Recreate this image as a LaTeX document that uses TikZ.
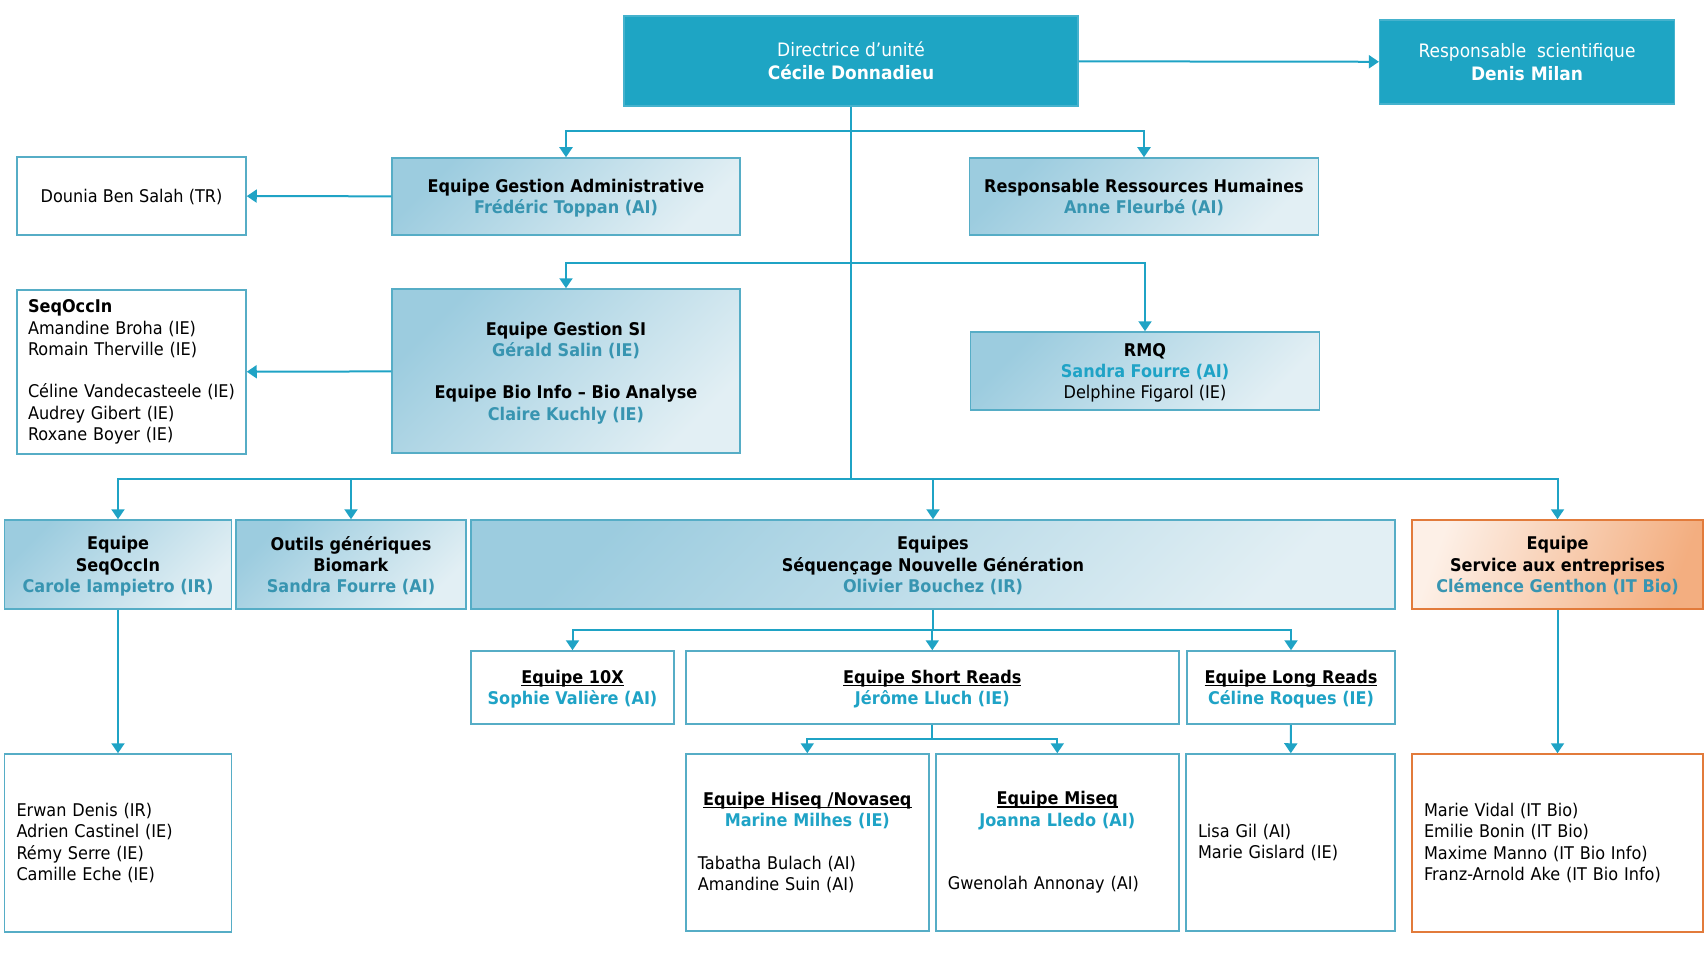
\documentclass[tikz,border=0pt]{standalone}
\usepackage{fontspec}
\setmainfont{DejaVu Sans}[FakeStretch=0.92]
\usetikzlibrary{arrows.meta}

\definecolor{unitblue}{HTML}{1EA5C4}
\definecolor{unitedge}{HTML}{45B2CD}
\definecolor{gradtop}{HTML}{9CCCDF}
\definecolor{gradbot}{HTML}{E2EFF4}
\definecolor{boxedge}{HTML}{56ADC6}
\definecolor{linkblue}{HTML}{1FA3C5}
\definecolor{namedim}{HTML}{3895B1}
\definecolor{namebright}{HTML}{1FA3C6}
\definecolor{orlight}{HTML}{FDF0E7}
\definecolor{ordark}{HTML}{F3AE80}
\definecolor{oredge}{HTML}{E27B3B}

\newsavebox{\hdbox}
\newcommand{\nm}[1]{\textcolor{namedim}{\textbf{#1}}}
\newcommand{\nb}[1]{\textcolor{namebright}{\textbf{#1}}}
\newcommand{\hd}[1]{\sbox{\hdbox}{\textbf{#1}}\rlap{\usebox{\hdbox}}\rule[-2.8pt]{\wd\hdbox}{1.3pt}}
\newcommand{\ctr}[1]{\makebox[\linewidth]{#1}}

\tikzset{
  every node/.style={font=\fontsize{17.5}{21.3}\selectfont, inner sep=0pt},
  topbox/.style={rectangle, fill=unitblue, draw=unitedge, line width=1.2pt,
    text=white, align=center, text depth=0pt, font=\fontsize{18.5}{23}\selectfont},
  gradbox/.style={rectangle, draw=boxedge, line width=1.5pt,
    top color=gradtop, bottom color=gradbot, shading angle=45, align=center, text depth=0pt},
  orgradbox/.style={rectangle, draw=oredge, line width=1.5pt,
    top color=orlight, bottom color=ordark, shading angle=70, align=center, text depth=0pt},
  titlebox/.style={rectangle, draw=boxedge, fill=white, line width=1.5pt, align=center, text depth=0pt},
  listbox/.style={rectangle, draw=boxedge, fill=white, line width=1.5pt, align=left},
  orlistbox/.style={listbox, draw=oredge},
  link/.style={draw=linkblue, line width=2pt},
  >={Triangle[length=10pt,width=13pt]}
}

\begin{document}
\begin{tikzpicture}[x=1pt,y=-1pt]
  \useasboundingbox (0,0) rectangle (1707,960);
  \draw
    (851,61) node[topbox,minimum width=454,minimum height=90] (dir)
      {Directrice d’unité\\\textbf{Cécile Donnadieu}}
    (1527,62) node[topbox,minimum width=295,minimum height=84] (sci)
      {Responsable~ scientifique\\\textbf{Denis Milan}}
    (131.5,196) node[titlebox,minimum width=229,minimum height=78] (dounia)
      {Dounia Ben Salah (TR)}
    (566,196.5) node[gradbox,minimum width=348,minimum height=77] (admin)
      {\textbf{Equipe Gestion Administrative}\\\nm{Frédéric Toppan (AI)}}
    (1144,196.5) node[gradbox,minimum width=349,minimum height=77] (rrh)
      {\textbf{Responsable Ressources Humaines}\\\nm{Anne Fleurbé (AI)}}
    (131.5,372) node[listbox,minimum width=229,minimum height=164,text width=207] (seqlist)
      {\textbf{SeqOccIn}\\Amandine Broha (IE)\\Romain Therville (IE)\\[21.3pt]
       Céline Vandecasteele (IE)\\Audrey Gibert (IE)\\Roxane Boyer (IE)}
    (566,371) node[gradbox,minimum width=348,minimum height=164] (gestsi)
      {\textbf{Equipe Gestion SI}\\\nm{Gérald Salin (IE)}\\[21.3pt]
       \textbf{Equipe Bio Info – Bio Analyse}\\\nm{Claire Kuchly (IE)}}
    (1145,371) node[gradbox,minimum width=349,minimum height=78] (rmq)
      {\textbf{RMQ}\\\nb{Sandra Fourre (AI)}\\Delphine Figarol (IE)}
    (118,564.5) node[gradbox,minimum width=227,minimum height=89] (seqteam)
      {\textbf{Equipe}\\\textbf{SeqOccIn}\\\nm{Carole Iampietro (IR)}}
    (351,564.5) node[gradbox,minimum width=230,minimum height=89] (outils)
      {\textbf{Outils génériques}\\\textbf{Biomark}\\\nm{Sandra Fourre (AI)}}
    (933,564.5) node[gradbox,minimum width=924,minimum height=89] (sng)
      {\textbf{Equipes}\\\textbf{Séquençage Nouvelle Génération}\\\nm{Olivier Bouchez (IR)}}
    (1557.5,564.5) node[orgradbox,minimum width=291,minimum height=89] (service)
      {\textbf{Equipe}\\\textbf{Service aux entreprises}\\\nm{Clémence Genthon (IT Bio)}}
    (572.5,687.5) node[titlebox,minimum width=203,minimum height=73] (tenx)
      {\hd{Equipe 10X}\\\nb{Sophie Valière (AI)}}
    (932.3,687.5) node[titlebox,minimum width=493,minimum height=73] (short)
      {\hd{Equipe Short Reads}\\\nb{Jérôme Lluch (IE)}}
    (1291,687.5) node[titlebox,minimum width=208,minimum height=73] (long)
      {\hd{Equipe Long Reads}\\\nb{Céline Roques (IE)}}
    (118,843) node[listbox,minimum width=227,minimum height=178,text width=203] (erwan)
      {Erwan Denis (IR)\\Adrien Castinel (IE)\\Rémy Serre (IE)\\Camille Eche (IE)}
    (807.3,842.5) node[listbox,minimum width=243,minimum height=177,text width=219] (hiseq)
      {\ctr{\hd{Equipe Hiseq /Novaseq}}\\\ctr{\nb{Marine Milhes (IE)}}\\[21.3pt]
       Tabatha Bulach (AI)\\Amandine Suin (AI)}
    (1057.3,842.5) node[listbox,minimum width=243,minimum height=177,text width=219] (miseq)
      {\ctr{\hd{Equipe Miseq}}\\\ctr{\nb{Joanna Lledo (AI)}}\\[42.6pt]
       Gwenolah Annonay (AI)}
    (1290.5,842.5) node[listbox,minimum width=209,minimum height=177,text width=185] (lisa)
      {Lisa Gil (AI)\\Marie Gislard (IE)}
    (1557.5,843) node[orlistbox,minimum width=291,minimum height=178,text width=267] (marie)
      {Marie Vidal (IT Bio)\\Emilie Bonin (IT Bio)\\Maxime Manno (IT Bio Info)\\Franz-Arnold Ake (IT Bio Info)};
  \coordinate (j1) at (851,131);
  \coordinate (j2) at (851,263);
  \coordinate (j3) at (851,479);
  \coordinate (k1) at (933,630);
  \coordinate (k2) at (932.3,739);
  \begin{scope}[link]
    \draw (dir.south) -- (j3);
    \draw[->] (dir) -- (sci);
    \draw[->] (j1) -| (admin.north);
    \draw[->] (j1) -| (rrh.north);
    \draw[->] (j2) -| (gestsi.north);
    \draw[->] (j2) -| (rmq.north);
    \draw[->] (admin) -- (dounia);
    \draw[->] (gestsi) -- (seqlist);
    \draw[->] (j3) -| (seqteam.north);
    \draw[->] (j3) -| (outils.north);
    \draw[->] (j3) -| (sng.north);
    \draw[->] (j3) -| (service.north);
    \draw[->] (seqteam) -- (erwan);
    \draw (sng.south) -- (k1);
    \draw[->] (k1) -| (tenx.north);
    \draw[->] (k1) -| (short.north);
    \draw[->] (k1) -| (long.north);
    \draw (short.south) -- (k2);
    \draw[->] (k2) -| (hiseq.north);
    \draw[->] (k2) -| (miseq.north);
    \draw[->] (long) -- (lisa);
    \draw[->] (service) -- (marie);
  \end{scope}
\end{tikzpicture}
\end{document}
